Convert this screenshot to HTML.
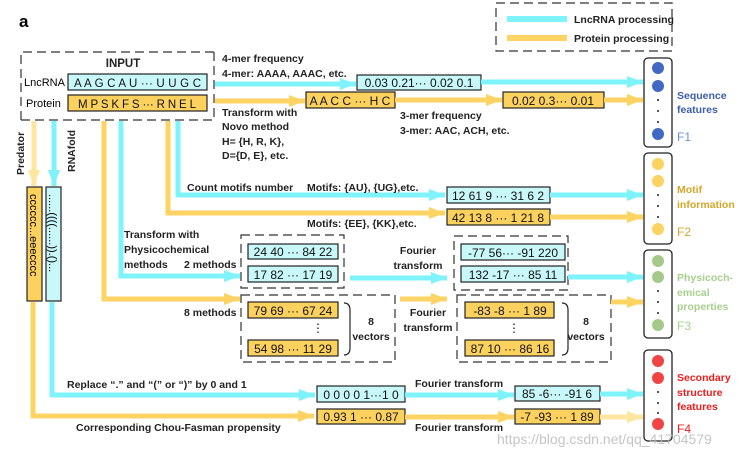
<!DOCTYPE html>
<html><head><meta charset="utf-8"><style>
html,body{margin:0;padding:0;background:#fff;width:748px;height:455px;overflow:hidden}
svg{display:block}
text{font-family:"Liberation Sans",sans-serif}
.b{font-weight:bold;font-size:10.5px;fill:#222}
.bx{font-size:12px;fill:#111}
.c{stroke:#7ef3fb;stroke-width:5;fill:none}
.y{stroke:#fdd463;stroke-width:5;fill:none}
.cb{fill:#c9f8fb;stroke:#222;stroke-width:1.2}
.yb{fill:#fcd15e;stroke:#222;stroke-width:1.2}
.d{fill:none;stroke:#333;stroke-width:1.2;stroke-dasharray:9,5}
</style></head><body>
<svg width="748" height="455" viewBox="0 0 748 455" xmlns="http://www.w3.org/2000/svg">
<defs>
<marker id="ac" markerUnits="userSpaceOnUse" markerWidth="18" markerHeight="14" refX="16" refY="7" orient="auto"><path d="M0,1 L16,7 L0,13 z" fill="#7ef3fb"/></marker>
<marker id="ay" markerUnits="userSpaceOnUse" markerWidth="18" markerHeight="14" refX="16" refY="7" orient="auto"><path d="M0,1 L16,7 L0,13 z" fill="#fdd463"/></marker>
<marker id="al" markerUnits="userSpaceOnUse" markerWidth="18" markerHeight="14" refX="16" refY="7" orient="auto"><path d="M0,1 L16,7 L0,13 z" fill="#fde6a0"/></marker>
</defs>
<text x="19" y="27" style="font-weight:bold;font-size:17px">a</text>

<!-- legend -->
<rect x="496" y="3" width="176" height="48" class="d"/>
<rect x="507" y="16" width="60" height="6" fill="#7ef3fb"/>
<text x="574" y="23" class="b">LncRNA processing</text>
<rect x="507" y="35" width="60" height="6" fill="#fdd463"/>
<text x="574" y="42" class="b">Protein processing</text>

<!-- input -->
<path d="M21,120 L21,52 L214,52 M214,52 L214,120 L21,120" class="d"/>
<text x="123" y="67" class="b" text-anchor="middle" style="font-size:11.5px">INPUT</text>
<text x="24" y="86" style="font-size:11px">LncRNA</text>
<rect x="68" y="74" width="139" height="16" class="cb"/>
<text x="74" y="87" class="bx" style="font-size:11.5px" textLength="127" lengthAdjust="spacing">A A G C A U ··· U U G C</text>
<text x="26" y="107" style="font-size:11px">Protein</text>
<rect x="68" y="95" width="139" height="16" class="yb"/>
<text x="78" y="108" class="bx" style="font-size:11.5px" textLength="118" lengthAdjust="spacing">M P S K F S ··· R N E L</text>

<!-- sequence features -->
<text x="222" y="62" class="b">4-mer frequency</text>
<text x="222" y="77" class="b">4-mer: AAAA, AAAC, etc.</text>
<line x1="215" y1="84" x2="356" y2="84" class="c" marker-end="url(#ac)"/>
<rect x="357" y="75" width="124" height="15" class="cb"/>
<text x="419" y="87" class="bx" text-anchor="middle">0.03 0.21··· 0.02 0.1</text>
<line x1="481" y1="82" x2="643" y2="82" class="c" marker-end="url(#ac)"/>
<line x1="215" y1="101" x2="305" y2="101" class="y" marker-end="url(#ay)"/>
<rect x="306" y="92" width="89" height="16" class="yb"/>
<text x="350" y="105" class="bx" text-anchor="middle">A A C C ··· H C</text>
<line x1="395" y1="100" x2="502" y2="100" class="y" marker-end="url(#ay)"/>
<rect x="503" y="92" width="101" height="16" class="yb"/>
<text x="553" y="105" class="bx" text-anchor="middle">0.02 0.3··· 0.01</text>
<line x1="604" y1="100" x2="643" y2="100" class="y" marker-end="url(#ay)"/>
<text x="222" y="116" class="b">Transform with</text>
<text x="222" y="130" class="b">Novo method</text>
<text x="222" y="145" class="b">H= {H, R, K},</text>
<text x="222" y="159" class="b">D={D, E}, etc.</text>
<text x="400" y="119" class="b">3-mer frequency</text>
<text x="400" y="134" class="b">3-mer: AAC, ACH, etc.</text>

<!-- motif -->
<path d="M178,121 L178,195 L445,195" class="c" marker-end="url(#ac)"/>
<path d="M168,121 L168,213 L445,213" class="y" marker-end="url(#ay)"/>
<text x="187" y="191" class="b">Count motifs number</text>
<text x="307" y="191" class="b">Motifs: {AU}, {UG},etc.</text>
<text x="307" y="227" class="b">Motifs: {EE}, {KK},etc.</text>
<rect x="447" y="187" width="103" height="16" class="cb"/>
<text x="498" y="200" class="bx" text-anchor="middle">12 61 9 ··· 31 6 2</text>
<line x1="550" y1="195" x2="643" y2="195" class="c" marker-end="url(#ac)"/>
<rect x="447" y="209" width="103" height="16" class="yb"/>
<text x="498" y="222" class="bx" text-anchor="middle">42 13 8 ··· 1 21 8</text>
<line x1="550" y1="217" x2="643" y2="217" class="y" marker-end="url(#ay)"/>

<!-- physicochemical -->
<path d="M121,121 L121,276 L240,276" class="c" marker-end="url(#ac)"/>
<path d="M104,121 L104,299 L240,299" class="y" marker-end="url(#ay)"/>
<text x="124" y="238" class="b">Transform with</text>
<text x="124" y="253" class="b">Physicochemical</text>
<text x="124" y="268" class="b">methods</text>
<text x="184" y="268" class="b">2 methods</text>
<text x="184" y="316" class="b">8 methods</text>
<rect x="241" y="235" width="103" height="53" class="d"/>
<rect x="248" y="244" width="90" height="15" class="cb"/>
<text x="293" y="256" class="bx" text-anchor="middle">24 40 ··· 84 22</text>
<rect x="248" y="266" width="90" height="16" class="cb"/>
<text x="293" y="279" class="bx" text-anchor="middle">17 82 ··· 17 19</text>
<line x1="350" y1="278" x2="447" y2="278" class="c" marker-end="url(#ac)"/>
<text x="418" y="254" class="b" text-anchor="middle">Fourier</text>
<text x="418" y="269" class="b" text-anchor="middle">transform</text>
<rect x="454" y="236" width="114" height="54" class="d"/>
<rect x="461" y="244" width="104" height="16" class="cb"/>
<text x="513" y="257" class="bx" text-anchor="middle">-77 56··· -91 220</text>
<rect x="461" y="266" width="104" height="16" class="cb"/>
<text x="513" y="279" class="bx" text-anchor="middle">132 -17 ··· 85 11</text>
<line x1="568" y1="277" x2="643" y2="277" class="c" marker-end="url(#ac)"/>

<rect x="241" y="295" width="154" height="67" class="d"/>
<rect x="248" y="302" width="90" height="16" class="yb"/>
<text x="293" y="315" class="bx" text-anchor="middle">79 69 ··· 67 24</text>
<text x="318" y="332" class="bx" text-anchor="middle">⋮</text>
<rect x="248" y="340" width="90" height="16" class="yb"/>
<text x="293" y="353" class="bx" text-anchor="middle">54 98 ··· 11 29</text>
<path d="M344,303 Q350,303 350,310 L350,348 Q350,355 344,355" fill="none" stroke="#222" stroke-width="1.2"/>
<text x="371" y="325" class="b" text-anchor="middle">8</text>
<text x="371" y="340" class="b" text-anchor="middle">vectors</text>
<line x1="400" y1="299" x2="447" y2="299" class="y" marker-end="url(#ay)"/>
<text x="428" y="316" class="b" text-anchor="middle">Fourier</text>
<text x="428" y="331" class="b" text-anchor="middle">transform</text>
<rect x="457" y="295" width="154" height="67" class="d"/>
<rect x="465" y="302" width="89" height="16" class="yb"/>
<text x="510" y="315" class="bx" text-anchor="middle">-83 -8 ··· 1 89</text>
<text x="514" y="332" class="bx" text-anchor="middle">⋮</text>
<rect x="465" y="340" width="89" height="16" class="yb"/>
<text x="510" y="353" class="bx" text-anchor="middle">87 10 ··· 86 16</text>
<path d="M562,303 Q568,303 568,310 L568,348 Q568,355 562,355" fill="none" stroke="#222" stroke-width="1.2"/>
<text x="586" y="325" class="b" text-anchor="middle">8</text>
<text x="586" y="340" class="b" text-anchor="middle">vectors</text>
<line x1="611" y1="302" x2="643" y2="302" class="y" marker-end="url(#ay)"/>

<!-- secondary structure -->
<line x1="34" y1="121" x2="34" y2="186" stroke="#fde6a0" stroke-width="5" marker-end="url(#al)"/>
<line x1="54" y1="121" x2="54" y2="186" class="c" marker-end="url(#ac)"/>
<text transform="translate(24,175) rotate(-90)" class="b">Predator</text>
<text transform="translate(75,172) rotate(-90)" class="b">RNAfold</text>
<rect x="27" y="187" width="15" height="114" class="yb"/>
<text transform="translate(30,194) rotate(90)" style="font-size:11px">cccccc...eeecccc</text>
<rect x="46" y="187" width="15" height="114" class="cb"/>
<text transform="translate(49,194) rotate(90)" style="font-size:11px">......((((......)).()...</text>
<path d="M52,302 L52,395 L315,395" class="c" marker-end="url(#ac)"/>
<path d="M33,302 L33,416 L314,416" class="y" marker-end="url(#ay)"/>
<text x="67" y="388" class="b">Replace  “.”  and  “(”  or  “)”  by 0 and 1</text>
<text x="76" y="431" class="b">Corresponding Chou-Fasman propensity</text>
<rect x="317" y="386" width="88" height="16" class="cb"/>
<text x="361" y="399" class="bx" text-anchor="middle">0 0 0 0 1···1 0</text>
<line x1="405" y1="395" x2="514" y2="395" class="c" marker-end="url(#ac)"/>
<rect x="317" y="409" width="88" height="15" class="yb"/>
<text x="361" y="421" class="bx" text-anchor="middle">0.93 1 ··· 0.87</text>
<line x1="405" y1="417" x2="514" y2="417" class="y" marker-end="url(#ay)"/>
<text x="415" y="387" class="b">Fourier transform</text>
<text x="415" y="431" class="b">Fourier transform</text>
<rect x="515" y="386" width="85" height="15" class="cb"/>
<text x="557" y="398" class="bx" text-anchor="middle">85 -6··· -91 6</text>
<line x1="600" y1="394" x2="643" y2="394" class="c" marker-end="url(#ac)"/>
<rect x="515" y="409" width="85" height="15" class="yb"/>
<text x="557" y="421" class="bx" text-anchor="middle">-7 -93 ··· 1 89</text>
<line x1="600" y1="417" x2="643" y2="417" stroke="#fde6a0" stroke-width="5" marker-end="url(#al)"/>

<!-- panels -->
<g stroke="#222" stroke-width="1.3" fill="#fff">
<rect x="644" y="58" width="28" height="89" rx="4"/>
<rect x="644" y="153" width="28" height="91" rx="4"/>
<rect x="644" y="250" width="28" height="88" rx="4"/>
<rect x="644" y="350" width="28" height="91" rx="4"/>
</g>
<g fill="#4169c4"><circle cx="658" cy="68" r="6"/><circle cx="658" cy="86" r="6"/><circle cx="658" cy="134" r="6"/></g>
<g fill="#fcd361"><circle cx="658" cy="164" r="6"/><circle cx="658" cy="181" r="6"/><circle cx="658" cy="229" r="6"/></g>
<g fill="#a5c98a"><circle cx="658" cy="261" r="6"/><circle cx="658" cy="277" r="6"/><circle cx="658" cy="325" r="6"/></g>
<g fill="#f04545"><circle cx="658" cy="361" r="6"/><circle cx="658" cy="378" r="6"/><circle cx="658" cy="424" r="6"/></g>
<g fill="#222">
<circle cx="658" cy="100" r="1"/><circle cx="658" cy="111" r="1"/><circle cx="658" cy="122" r="1"/>
<circle cx="658" cy="195" r="1"/><circle cx="658" cy="206" r="1"/><circle cx="658" cy="217" r="1"/>
<circle cx="658" cy="291" r="1"/><circle cx="658" cy="302" r="1"/><circle cx="658" cy="313" r="1"/>
<circle cx="658" cy="392" r="1"/><circle cx="658" cy="403" r="1"/><circle cx="658" cy="413" r="1"/>
</g>
<text x="677" y="99" class="b" style="fill:#3d5ea8">Sequence</text>
<text x="677" y="113" class="b" style="fill:#3d5ea8">features</text>
<text x="677" y="141" style="font-size:12px;fill:#6b8fd8">F1</text>
<text x="677" y="193" class="b" style="fill:#d4a72a">Motif</text>
<text x="677" y="208" class="b" style="fill:#d4a72a">information</text>
<text x="677" y="236" style="font-size:12px;fill:#d4a72a">F2</text>
<text x="677" y="281" class="b" style="fill:#a7cf8e">Physicoch-</text>
<text x="677" y="296" class="b" style="fill:#a7cf8e">emical</text>
<text x="677" y="310" class="b" style="fill:#a7cf8e">properties</text>
<text x="677" y="330" style="font-size:12px;fill:#a7cf8e">F3</text>
<text x="677" y="381" class="b" style="fill:#ee1c1c">Secondary</text>
<text x="677" y="396" class="b" style="fill:#ee1c1c">structure</text>
<text x="677" y="410" class="b" style="fill:#ee1c1c">features</text>
<text x="677" y="433" style="font-size:12px;fill:#ee1c1c">F4</text>

<text x="497" y="444" style="font-size:14px;fill:#bbb;opacity:0.85">https://blog.csdn.net/qq_41704579</text>
</svg>
</body></html>
